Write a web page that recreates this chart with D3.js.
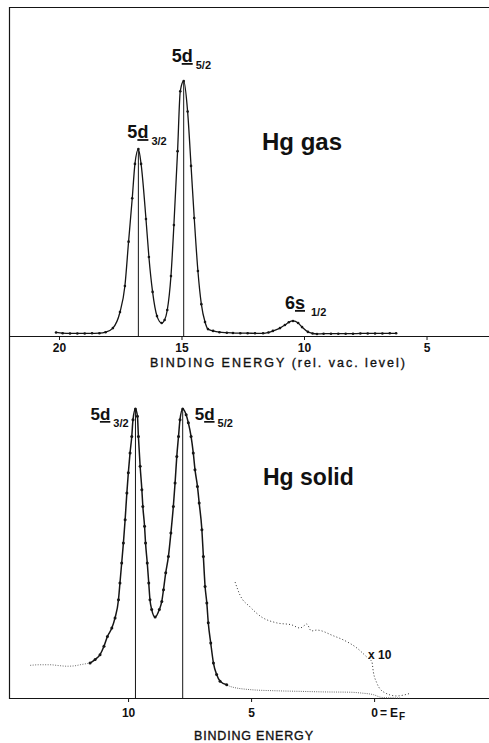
<!DOCTYPE html>
<html>
<head>
<meta charset="utf-8">
<script src="https://cdn.jsdelivr.net/npm/d3@7"></script>
<style>
  html, body { margin: 0; padding: 0; background: #fff; }
  svg { display: block; }
  text { font-family: "Liberation Sans", Arial, sans-serif; fill: #111; }
</style>
</head>
<body>
<script>
// Photoelectron spectra of mercury: free atoms (upper) and solid (lower).

// ---- Hg gas: binding energy (eV, rel. vacuum level) vs. intensity (% of 5d5/2 peak)
const gasEnergy = [20.12, 19.85, 19.55, 19.25, 18.95, 18.65, 18.35, 18.1, 17.8, 17.51,
  17.31, 17.16, 17.01, 16.9, 16.76, 16.65, 16.45, 16.33, 16.18, 16.0,
  15.81, 15.69, 15.58, 15.43, 15.31, 15.16, 15.05, 14.91, 14.75, 14.61,
  14.48, 14.33, 14.19, 14.04, 13.92, 13.71, 13.45, 13.15, 12.9, 12.6,
  12.3, 12.0, 11.67, 11.45, 11.27, 10.98, 10.78, 10.62, 10.45, 10.24,
  10.08, 9.84, 9.65, 9.47, 9.2, 8.9, 8.6, 8.3, 8.0, 7.7,
  7.4, 7.1, 6.8, 6.5, 6.24];
const gasIntensity = [1.4, 1.1, 1.0, 1.0, 1.0, 1.05, 1.1, 1.5, 3.1, 9.4,
  19.6, 37, 54, 67.5, 73.3, 67.5, 45.9, 31, 17.3, 7.8,
  5.1, 6.3, 10.2, 23.5, 43.5, 72.5, 96, 100, 88, 66.7,
  46.3, 25.5, 12.5, 5.5, 2.7, 2.0, 1.5, 1.3, 1.2, 1.1,
  1.1, 1.05, 1.05, 1.4, 2.0, 3.1, 4.3, 5.4, 5.9, 5.1,
  3.5, 1.6, 1.0, 0.8, 0.9, 0.9, 0.9, 0.9, 0.9, 1.0,
  1.0, 1.0, 1.0, 1.05, 1.05];
const gasPeakLabels = ["5d3/2", "5d5/2", "6s1/2"];
const gasPeakEnergy = [16.76, 14.91, 10.45];
const gasPeakIntensity = [73.3, 100, 5.9];
const gasTicks = [20, 15, 10, 5];

// ---- Hg solid: binding energy (eV, rel. Fermi level) vs. intensity (% of peak)
const solidEnergy = [11.545, 11.34, 11.14, 10.98, 10.84, 10.66, 10.53, 10.39, 10.33, 10.26,
  10.19, 10.12, 10.05, 9.99, 9.92, 9.85, 9.80, 9.70, 9.62, 9.58,
  9.51, 9.44, 9.40, 9.33, 9.29, 9.22, 9.16, 9.11, 9.04, 8.90,
  8.73, 8.63, 8.56, 8.47, 8.36, 8.26, 8.16, 8.09, 8.02, 7.95,
  7.89, 7.78, 7.64, 7.55, 7.44, 7.35, 7.28, 7.18, 7.11, 7.00,
  6.94, 6.87, 6.80, 6.74, 6.64, 6.53, 6.40, 6.26, 5.99];
const solidIntensity = [12.1, 13.3, 15.0, 17.9, 21.3, 24.2, 27.7, 34.0, 39.8, 46.7,
  53.6, 61.7, 70.9, 77.9, 84.8, 90.5, 96.3, 100, 97.5, 90.5,
  80.2, 72.1, 66.3, 59.4, 53.6, 46.7, 39.8, 34.0, 30.6, 28.0,
  30.6, 33.4, 37.5, 43.3, 49.0, 57.1, 66.3, 74.4, 83.6, 90.5,
  96.3, 100, 98.0, 95.2, 90.5, 84.8, 79.0, 73.2, 67.5, 58.2,
  49.0, 38.6, 32.9, 26.0, 19.0, 12.1, 8.1, 5.8, 4.6];
// faint high-energy and valence-band tails of the same spectrum
const solidLeftEnergy = [13.98, 13.6, 13.17, 12.8, 12.49, 12.2, 11.95, 11.75, 11.545];
const solidLeftIntensity = [11.3, 11.5, 11.5, 11.2, 11.0, 11.1, 11.5, 11.8, 12.1];
const solidTailEnergy = [5.99, 5.85, 5.04, 4.0, 3.01, 2.0, 0.98, 0.5, 0.03, -0.31, -1.06];
const solidTailIntensity = [4.6, 4.0, 2.9, 2.5, 2.3, 2.1, 2.0, 1.7, 1.15, 0.2, 0.0];
// valence band magnified ten times
const x10Energy = [5.65, 5.45, 5.04, 4.57, 3.96, 3.35, 3.01, 2.85, 2.74, 2.55, 2.33, 1.65,
  1.25, 0.70, 0.30, 0.09, 0.03, -0.11, -0.38, -0.92, -1.19, -1.46];
const x10Intensity = [40.1, 35.6, 31.5, 28.0, 26.0, 25.3, 24.2, 25.0, 25.6, 23.2, 23.5, 21.5,
  20.1, 17.3, 14.2, 12.5, 9.0, 5.2, 2.1, 0.7, 1.0, 1.6];
const solidPeakLabels = ["5d3/2", "5d5/2"];
const solidPeakEnergy = [9.70, 7.78];
const solidPeakIntensity = [100, 100];
const solidTicks = [10, 5, 0];

const W = 489, H = 743;
const svg = d3.select("body").append("svg").attr("width", W).attr("height", H);

const xGas = d3.scaleLinear().domain([22.04, 2.45]).range([9, 489]);
const yGas = d3.scaleLinear().domain([0, 100]).range([336, 81]);
const xSolid = d3.scaleLinear().domain([14.84, -4.67]).range([9, 489]);
const ySolid = d3.scaleLinear().domain([0, 100]).range([698, 409]);

const ink = "#151515";
const zip = (a, b) => a.map((v, i) => [v, b[i]]);

// frame: top edge and left edge
svg.append("line").attr("x1", 9).attr("x2", 489).attr("y1", 7.5).attr("y2", 7.5)
  .attr("stroke", ink).attr("stroke-width", 1.2);
svg.append("line").attr("x1", 9.5).attr("x2", 9.5).attr("y1", 7).attr("y2", 699)
  .attr("stroke", ink).attr("stroke-width", 1.2);

// axes
function styleAxis(g) {
  g.attr("font-family", null).attr("font-size", null);
  g.select(".domain").attr("stroke", ink).attr("stroke-width", 1.2);
  g.selectAll(".tick line").attr("stroke", ink).attr("stroke-width", 1);
  g.selectAll(".tick text").style("font-size", "12px").style("font-weight", "bold").attr("fill", ink);
}
const gAxGas = svg.append("g").attr("transform", "translate(0,336)")
  .call(d3.axisBottom(xGas).tickValues(gasTicks).tickSize(4).tickSizeOuter(0).tickPadding(3.5));
styleAxis(gAxGas);

const gAxSolid = svg.append("g").attr("transform", "translate(0,698)")
  .call(d3.axisBottom(xSolid).tickValues(solidTicks).tickSize(4).tickSizeOuter(0).tickPadding(6));
styleAxis(gAxSolid);
gAxSolid.selectAll(".tick text").filter(d => d === 0).each(function () {
  const t = d3.select(this).attr("text-anchor", "start").attr("x", -3.4).text("0");
  t.append("tspan").attr("dx", 2).text("=");
  t.append("tspan").attr("dx", 3).text("E");
  t.append("tspan").attr("dx", 1).attr("dy", 3).style("font-size", "10px").text("F");
});

// axis titles
svg.append("text").attr("x", 150).attr("y", 367).attr("textLength", 255)
  .attr("lengthAdjust", "spacing").style("font-size", "12.5px")
  .attr("stroke", "#111").attr("stroke-width", 0.35).text("BINDING  ENERGY  (rel. vac. level)");
svg.append("text").attr("x", 194).attr("y", 740).attr("textLength", 119)
  .attr("lengthAdjust", "spacing").style("font-size", "12.5px")
  .attr("stroke", "#111").attr("stroke-width", 0.35).text("BINDING  ENERGY");

// panel captions
svg.append("text").attr("x", 262).attr("y", 150).style("font-size", "24px").style("font-weight", "bold").text("Hg gas");
svg.append("text").attr("x", 263).attr("y", 485).style("font-size", "23px").style("font-weight", "bold").text("Hg solid");

// ---------- upper spectrum
const lineGas = d3.line().x(d => xGas(d[0])).y(d => yGas(d[1])).curve(d3.curveMonotoneX);
const gasPts = zip(gasEnergy, gasIntensity);
svg.append("path").attr("d", lineGas(gasPts)).attr("fill", "none").attr("stroke", ink).attr("stroke-width", 1.3);
svg.append("g").selectAll("circle").data(gasPts).join("circle")
  .attr("cx", d => xGas(d[0])).attr("cy", d => yGas(d[1])).attr("r", 1.3).attr("fill", ink);

// peak markers (5d only)
svg.append("g").selectAll("line").data(gasPeakEnergy.slice(0, 2)).join("line")
  .attr("x1", d => xGas(d)).attr("x2", d => xGas(d))
  .attr("y1", (d, i) => yGas(gasPeakIntensity[i])).attr("y2", yGas(0))
  .attr("stroke", ink).attr("stroke-width", 1);

function levelLabel(x, y, label, size) {
  // label like "5d3/2": principal number, underlined orbital letter, j as subscript
  const t = svg.append("text").attr("x", x).attr("y", y).style("font-size", size + "px").style("font-weight", "bold");
  t.append("tspan").text(label[0]);
  t.append("tspan").style("text-decoration", "underline").text(label[1]);
  t.append("tspan").attr("dx", label[1] === "s" ? 6 : 3).attr("dy", 7)
    .style("font-size", "11px").text(label.slice(2));
  return t;
}
levelLabel(xGas(gasPeakEnergy[0]) - 11, yGas(gasPeakIntensity[0]) - 11, gasPeakLabels[0], 18);
levelLabel(xGas(gasPeakEnergy[1]) - 12, yGas(gasPeakIntensity[1]) - 19, gasPeakLabels[1], 18);
levelLabel(xGas(gasPeakEnergy[2]) - 8, yGas(gasPeakIntensity[2]) - 12, gasPeakLabels[2], 18);

// ---------- lower spectrum
const lineSolid = d3.line().x(d => xSolid(d[0])).y(d => ySolid(d[1])).curve(d3.curveMonotoneX);
const faint = "#6a6a6a";
svg.append("path").attr("d", lineSolid(zip(solidLeftEnergy, solidLeftIntensity)))
  .attr("fill", "none").attr("stroke", faint).attr("stroke-width", 1).attr("stroke-dasharray", "1 1.5");
svg.append("path").attr("d", lineSolid(zip(solidTailEnergy, solidTailIntensity)))
  .attr("fill", "none").attr("stroke", faint).attr("stroke-width", 1).attr("stroke-dasharray", "1 1.2");
svg.append("path").attr("d", lineSolid(zip(x10Energy, x10Intensity)))
  .attr("fill", "none").attr("stroke", "#333").attr("stroke-width", 1).attr("stroke-dasharray", "1 2.2");

const solidPts = zip(solidEnergy, solidIntensity);
svg.append("path").attr("d", lineSolid(solidPts)).attr("fill", "none").attr("stroke", ink).attr("stroke-width", 1.5);
svg.append("g").selectAll("circle").data(solidPts).join("circle")
  .attr("cx", d => xSolid(d[0])).attr("cy", d => ySolid(d[1])).attr("r", 1.5).attr("fill", ink);

svg.append("g").selectAll("line").data(solidPeakEnergy).join("line")
  .attr("x1", d => xSolid(d)).attr("x2", d => xSolid(d))
  .attr("y1", (d, i) => ySolid(solidPeakIntensity[i])).attr("y2", ySolid(0))
  .attr("stroke", ink).attr("stroke-width", 1);

levelLabel(xSolid(solidPeakEnergy[0]) - 45, ySolid(solidPeakIntensity[0]) + 11, solidPeakLabels[0], 17);
levelLabel(xSolid(solidPeakEnergy[1]) + 12, ySolid(solidPeakIntensity[1]) + 11, solidPeakLabels[1], 17);

svg.append("text").attr("x", xSolid(0) - 6).attr("y", ySolid(x10Intensity[0]) + 77)
  .style("font-size", "12px").style("font-weight", "bold").text("x 10");
</script>
</body>
</html>
